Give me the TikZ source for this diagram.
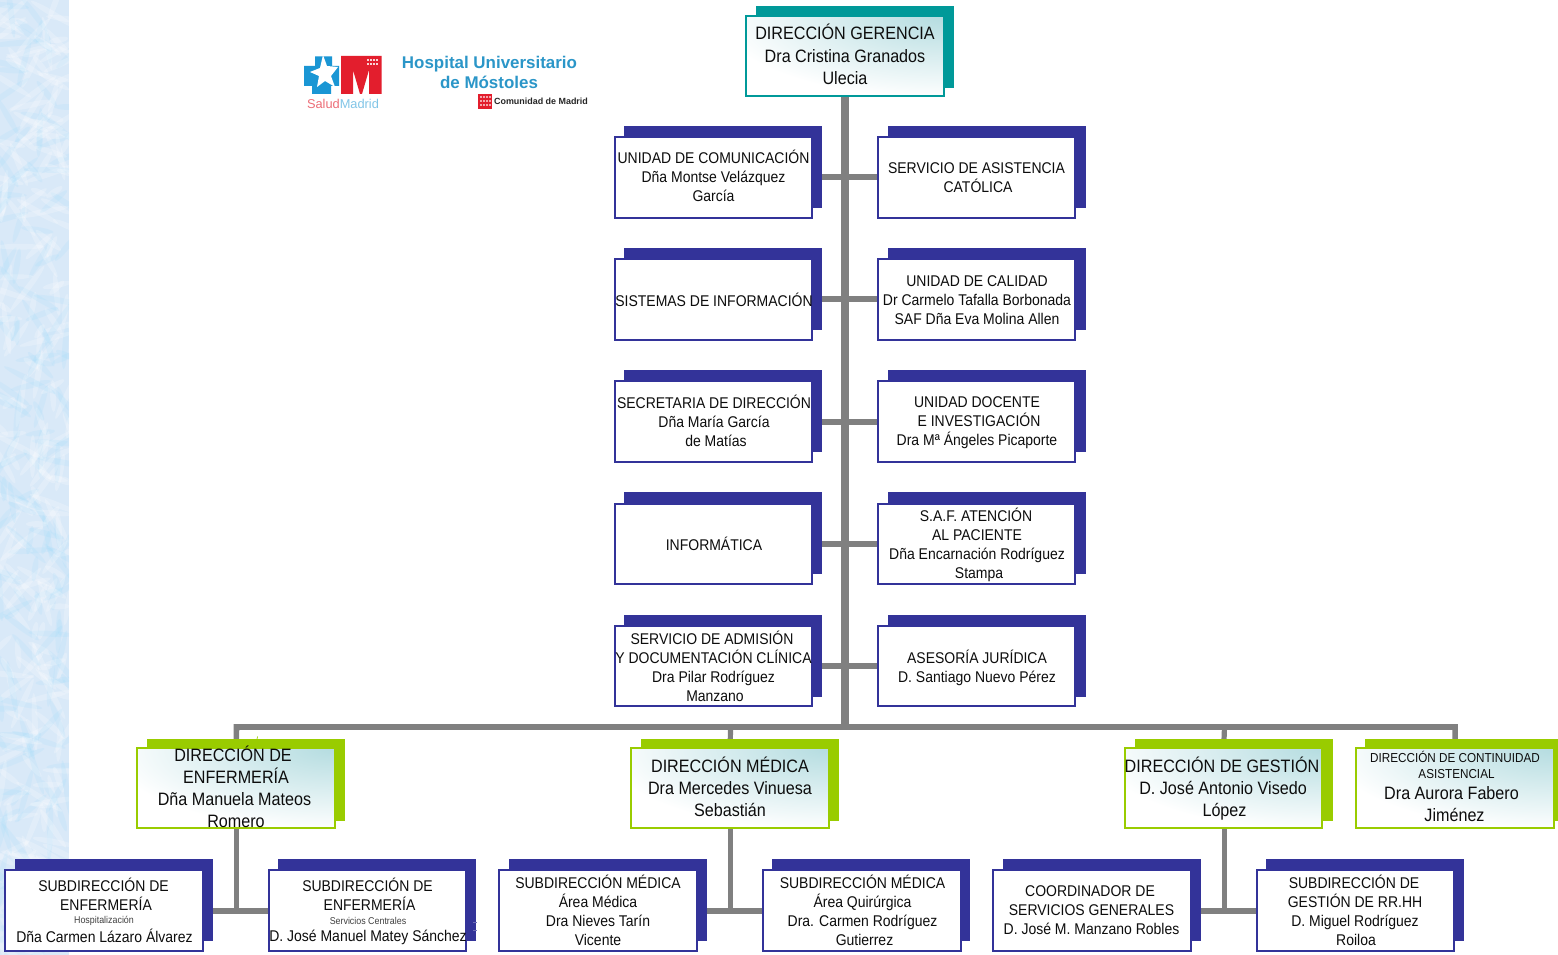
\documentclass[tikz,border=0pt]{standalone}
\usepackage{fontspec}
\setmainfont[FakeStretch=0.9]{Liberation Sans}
\newfontfamily\logofont{Liberation Sans}
\pgfdeclarelayer{back}
\pgfsetlayers{back,main}
\definecolor{navy}{HTML}{333399}
\definecolor{teal1}{HTML}{009999}
\definecolor{lime1}{HTML}{99CC00}
\definecolor{glow}{HTML}{B4DCE0}
\definecolor{wire}{HTML}{808080}
\definecolor{strip}{HTML}{D9E9F8}
\definecolor{logoblue}{HTML}{2B96C8}
\definecolor{crossblue}{HTML}{1A96D4}
\definecolor{logored}{HTML}{E31E2D}
\newdimen\pxu \pxu=0.75pt
\newcommand\Rt[1]{\hspace*{#1\pxu}}
\tikzset{
  plainbox/.style={rectangle,draw=navy,line width=1.5pt,fill=white,inner sep=0pt,outer sep=0pt,
    minimum width=148.1pt,minimum height=60.4pt},
  headbox/.style={rectangle,draw=#1,line width=1.5pt,fill=white,inner sep=0pt,outer sep=0pt,
    minimum width=148.1pt,minimum height=60.4pt,
    path picture={\shade[inner color=glow,outer color=white]
      (path picture bounding box.north east) ellipse (170pt and 62pt);}},
  txt/.style={align=center,inner sep=0pt,outer sep=0pt,text=black!95,
    font=\fontsize{11.65pt}{14.25pt}\selectfont,
    execute at begin node={\rule{0pt}{0.75em}},execute at end node={\rule[-0.2em]{0pt}{0.2em}}},
  bigtxt/.style={txt,font=\fontsize{13.45pt}{16.6pt}\selectfont},
  smalltxt/.style={txt,font=\fontsize{9.75pt}{12pt}\selectfont},
  tinytxt/.style={inner sep=0pt,text=black!75,font=\fontsize{7.4pt}{8pt}\selectfont},
  rowline/.style={draw=wire,line width=4.5pt},
  trunkline/.style={draw=wire,line width=6pt},
  busline/.style={draw=wire,line width=4.2pt,line join=miter},
  dropline/.style={draw=wire,line width=3.9pt},
  logotxt/.style={inner sep=0pt,text=logoblue,font=\logofont\fontsize{12.7pt}{14pt}\selectfont\bfseries},
}
% name, x, y, shadow x, shadow y, shadow colour, node style
\newcommand\orgbox[7]{%
  \fill[#6] (#4,#5) rectangle ++(198,82);
  \pgfmathsetmacro\cxx{#2+98.7}\pgfmathsetmacro\cyy{#3+40.5}
  \node[#7] (#1) at (\cxx,\cyy) {};
}
\begin{document}
\begin{tikzpicture}[x=0.75pt,y=-0.75pt]
\useasboundingbox (0,0) rectangle (1558,955);
\begin{pgfonlayer}{back}
  \fill[white] (0,0) rectangle (1558,955);
  \begin{scope}
    \clip (0,0) rectangle (69,955);
    \fill[strip] (0,0) rectangle (69,955);
    \pgfmathsetseed{41}
    \foreach \i in {1,...,420}{
      \pgfmathsetmacro\xx{rnd*69}
      \pgfmathsetmacro\yy{rnd*955}
      \pgfmathsetmacro\aa{rnd*180}
      \pgfmathsetmacro\ll{6+rnd*16}
      \pgfmathsetmacro\kk{rnd}
      \ifdim\kk pt<0.62pt
        \fill[white,opacity=.22,rotate around={\aa:(\xx,\yy)}] (\xx,\yy) ellipse (\ll pt and 2.2pt);
      \else
        \fill[blue!35!cyan!45,opacity=.12,rotate around={\aa:(\xx,\yy)}] (\xx,\yy) ellipse (\ll pt and 2.2pt);
      \fi
    }
  \end{scope}
\end{pgfonlayer}

% logo
\fill[crossblue] (315,56.5) -- (332,56.5) -- (332,66) -- (339,66) -- (339,86) -- (331,86) -- (331,94) -- (312,94) -- (312,86) -- (304,86) -- (304,66) -- (315,66) -- cycle;
\fill[white] (323,55) -- (327,66) -- (338,67) -- (331,76) -- (335,87) -- (325,81) -- (317,87) -- (319,76) -- (310,72) -- (320,68) -- cycle;
\fill[logored] (341,56) -- (381.5,56) -- (381.5,94) -- (369,94) -- (369,70) -- (362,94) -- (360,94) -- (353,70) -- (353,94) -- (341,94) -- cycle;
\foreach \dx in {0,3,6,9}{\foreach \dy in {0,4}{\fill[white,opacity=.8] (367+\dx,59+\dy) rectangle ++(2,2);}}
\node[inner sep=0pt,font=\logofont\fontsize{9.6pt}{11pt}\selectfont] (salud) at (343,104) {\textcolor{logored!65}{Salud}\textcolor{crossblue!55}{Madrid}};
\node[logotxt] (hosp1) at (489.5,64.5) {Hospital Universitario};
\node[logotxt] (hosp2) at (489,82) {de Móstoles};
\fill[logored] (478,94) rectangle (492,109);
\foreach \dx in {0,3,6,9}{\foreach \dy in {0,4,8}{\fill[white,opacity=.6] (480+\dx,96+\dy) rectangle ++(1.6,1.6);}}
\node[inner sep=0pt,text=black!85,font=\logofont\fontsize{6.7pt}{8pt}\selectfont\bfseries] (cam) at (541,101.5) {Comunidad de Madrid};

% top
\orgbox{ger}{746.5}{15.5}{756}{6}{teal1}{headbox=teal1}
% staff left
\orgbox{com}{615}{137}{624}{126}{navy}{plainbox}
\orgbox{sis}{615}{259}{624}{248}{navy}{plainbox}
\orgbox{sec}{615}{381}{624}{370}{navy}{plainbox}
\orgbox{inf}{615}{503.5}{624}{492}{navy}{plainbox}
\orgbox{adm}{615}{625.5}{624}{615}{navy}{plainbox}
% staff right
\orgbox{cat}{878}{137}{888}{126}{navy}{plainbox}
\orgbox{cal}{878}{259}{888}{248}{navy}{plainbox}
\orgbox{doc}{878}{381}{888}{370}{navy}{plainbox}
\orgbox{saf}{878}{503.5}{888}{492}{navy}{plainbox}
\orgbox{jur}{878}{625.5}{888}{615}{navy}{plainbox}
% directions
\orgbox{enf}{137.5}{747.5}{147}{739}{lime1}{headbox=lime1}
\orgbox{med}{631.5}{747.5}{641}{739}{lime1}{headbox=lime1}
\orgbox{ges}{1125}{747.5}{1135}{739}{lime1}{headbox=lime1}
\orgbox{con}{1356.5}{747.5}{1365}{739}{lime1}{headbox=lime1}
% sub
\orgbox{s1}{5.5}{870}{15}{859}{navy}{plainbox}
\orgbox{s2}{269}{870}{278}{859}{navy}{plainbox}
\orgbox{s3}{499.5}{870}{509}{859}{navy}{plainbox}
\orgbox{s4}{763.5}{870}{772}{859}{navy}{plainbox}
\orgbox{s5}{993.5}{870}{1003}{859}{navy}{plainbox}
\orgbox{s6}{1257}{870}{1266}{859}{navy}{plainbox}

% connectors, under the boxes
\coordinate (trunkend) at (ger.south |- 0,727);
\coordinate (busl) at (236.5,727);
\coordinate (busm) at (730.5,727);
\coordinate (busg) at (1224.5,727);
\coordinate (busr) at (1455,727);
\begin{pgfonlayer}{back}
  \draw[trunkline] (ger.south) -- (trunkend);
  \draw[rowline] (com.east) -- (cat.west);
  \draw[rowline] (sis.east) -- (cal.west);
  \draw[rowline] (sec.east) -- (doc.west);
  \draw[rowline] (inf.east) -- (saf.west);
  \draw[rowline] (adm.east) -- (jur.west);
  \draw[busline] (enf.north) -- (busl) -- (busr) -- (con.north);
  \draw[dropline] (busm) -- (med.north);
  \draw[dropline] (busg) -- (ges.north);
  \draw[dropline] (enf.south) -- (enf.south |- s1.east);
  \draw[dropline] (med.south) -- (med.south |- s3.east);
  \draw[dropline] (busg |- ges.south) -- (busg |- s5.east);
  \draw[rowline] (s1.east) -- (s2.west);
  \draw[rowline] (s3.east) -- (s4.west);
  \draw[rowline] (s5.east) -- (s6.west);
\end{pgfonlayer}

% texts
\begin{scope}[shift={(0,0.6)}]
\node[bigtxt] (tger) at (845,55.5) {DIRECCIÓN GERENCIA\\Dra Cristina Granados\Rt{4}\\Ulecia};
\node[txt] (tcom) at (713.5,177.2) {UNIDAD DE COMUNICACIÓN\\Dña Montse Velázquez\Rt{3}\\García};
\node[txt] (tcat) at (978,178.7) {SERVICIO DE ASISTENCIA\Rt{3}\\CATÓLICA};
\node[txt] (tsis) at (714,300.3) {SISTEMAS DE INFORMACIÓN};
\node[txt] (tcal) at (977,300.6) {UNIDAD DE CALIDAD\\Dr Carmelo Tafalla Borbonada\\SAF Dña Eva Molina Allen};
\node[txt] (tsec) at (714,422) {SECRETARIA DE DIRECCIÓN\\Dña María García\\\Rt{4}de Matías};
\node[txt] (tdoc) at (977,422.5) {UNIDAD DOCENTE\\\Rt{4}E INVESTIGACIÓN\\Dra Mª Ángeles Picaporte};
\node[txt] (tinf) at (714,544.5) {INFORMÁTICA};
\node[txt] (tsaf) at (977,543.8) {\Rt{-2}S.A.F. ATENCIÓN\\AL PACIENTE\\Dña Encarnación Rodríguez\\\Rt{4}Stampa};
\node[txt] (tadm) at (713.5,666.8) {SERVICIO DE ADMISIÓN\Rt{3}\\Y DOCUMENTACIÓN CLÍNICA\\Dra Pilar Rodríguez\\\Rt{3}Manzano};
\node[txt] (tjur) at (977,666.8) {ASESORÍA JURÍDICA\\D. Santiago Nuevo Pérez};
\node[bigtxt] (tenf) at (234.5,788) {DIRECCIÓN DE\Rt{3}\\\Rt{3}ENFERMERÍA\\Dña Manuela Mateos\Rt{3}\\\Rt{3}Romero};
\node[bigtxt] (tmed) at (730,788) {DIRECCIÓN MÉDICA\\Dra Mercedes Vinuesa\\Sebastián};
\node[bigtxt] (tges) at (1223,788) {DIRECCIÓN DE GESTIÓN\Rt{2}\\D. José Antonio Visedo\\\Rt{3}López};
\node[smalltxt] (tcon1) at (1455,766) {DIRECCIÓN DE CONTINUIDAD\\\Rt{3}ASISTENCIAL};
\node[bigtxt] (tcon2) at (1453,805.5) {Dra Aurora Fabero\Rt{3}\\\Rt{3}Jiménez};
\node[txt] (ts1a) at (105,895) {SUBDIRECCIÓN DE\Rt{3}\\\Rt{2}ENFERMERÍA};
\node[tinytxt] (ts1b) at (104,920.5) {Hospitalización};
\node[txt] (ts1c) at (104.5,936.3) {Dña Carmen Lázaro Álvarez};
\node[txt] (ts2a) at (369,895) {SUBDIRECCIÓN DE\Rt{3}\\\Rt{1}ENFERMERÍA};
\node[tinytxt] (ts2b) at (368,920.5) {Servicios Centrales};
\node[txt] (ts2c) at (368,936.3) {D. José Manuel Matey Sánchez};
\node[txt] (ts3) at (598,911) {SUBDIRECCIÓN MÉDICA\\Área Médica\\Dra Nieves Tarín\\Vicente};
\node[txt] (ts4) at (862.5,911) {SUBDIRECCIÓN MÉDICA\\Área Quirúrgica\\Dra. Carmen Rodríguez\\\Rt{4}Gutierrez};
\node[txt] (ts5) at (1091.5,911) {\Rt{-3}COORDINADOR DE\\SERVICIOS GENERALES\\D. José M. Manzano Robles};
\node[txt] (ts6) at (1355,911) {SUBDIRECCIÓN DE\Rt{2}\\GESTIÓN DE RR.HH\\D. Miguel Rodríguez\Rt{2}\\\Rt{2}Roiloa};
\end{scope}

% stray ticks of the reference
\draw[lime1,line width=.5pt] (257,739) -- (257.6,736.5);
\draw[navy!70,line width=.5pt] (473,922) -- (476.5,922) (473,930) -- (476.5,930);
\end{tikzpicture}
\end{document}
